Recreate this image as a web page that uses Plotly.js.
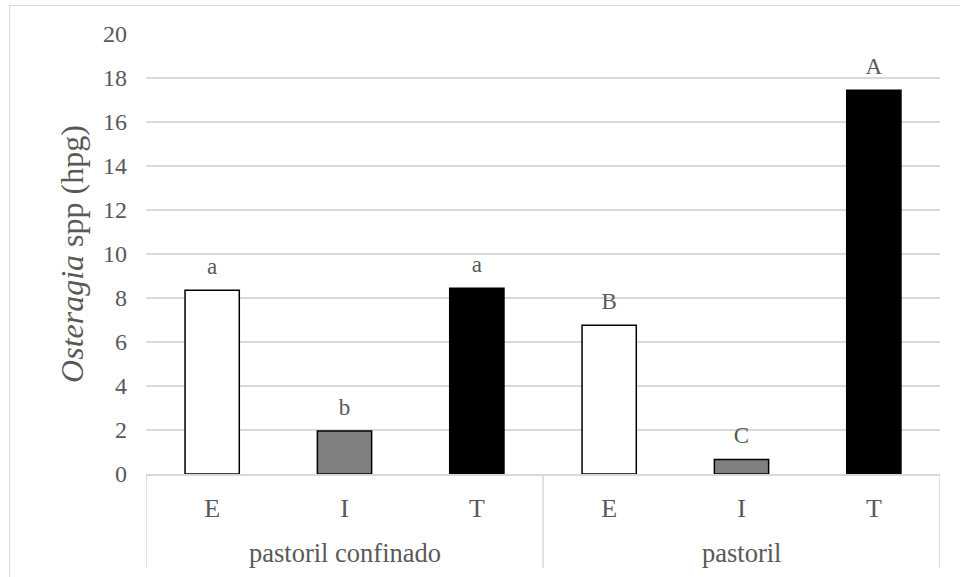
<!DOCTYPE html>
<html>
<head>
<meta charset="utf-8">
<script src="https://cdn.plot.ly/plotly-3.0.1.min.js"></script>
<style>
  html, body { margin: 0; padding: 0; background: #ffffff; }
  #frame { position: absolute; left: 9px; top: 5px; width: 1000px; height: 620px;
           border-left: 1.5px solid #d9d9d9; border-top: 1.5px solid #d9d9d9; }
  #chart { position: absolute; left: 0; top: 0; width: 960px; height: 577px; }
</style>
</head>
<body>
<div id="frame"></div>
<div id="chart"></div>
<script>
// Data
var groups = ["pastoril confinado", "pastoril confinado", "pastoril confinado", "pastoril", "pastoril", "pastoril"];
var treatments = ["E", "I", "T", "E", "I", "T"];
var values = [8.35, 1.95, 8.44, 6.76, 0.66, 17.44];
var letters = ["a", "b", "a", "B", "C", "A"];
var yTickVals = [0, 2, 4, 6, 8, 10, 12, 14, 16, 18, 20];

var fillColors = { E: "#ffffff", I: "#808080", T: "#000000" };
var barColors = treatments.map(function (t) { return fillColors[t]; });
var positions = treatments.map(function (t, i) { return i; });

var fontFamily = "Liberation Serif, Times New Roman, serif";
var textColor = "#595959";
var gridColor = "#d9d9d9";

// group label positions and group boundaries, derived from the groups array
var groupNames = [];
var groupCenters = [];
var boundaries = [-0.5];
groups.forEach(function (g, i) {
  if (i === 0 || g !== groups[i - 1]) {
    if (i > 0) boundaries.push(i - 0.5);
    groupNames.push(g);
    groupCenters.push([]);
  }
  groupCenters[groupCenters.length - 1].push(i);
});
boundaries.push(groups.length - 0.5);
groupCenters = groupCenters.map(function (arr) {
  return arr.reduce(function (a, b) { return a + b; }, 0) / arr.length;
});

var bars = {
  type: "bar",
  x: positions,
  y: values,
  width: 0.41,
  marker: { color: barColors, line: { color: "#000000", width: 1.5 } },
  hoverinfo: "skip",
  showlegend: false
};

var labels = {
  type: "scatter",
  mode: "markers+text",
  x: positions,
  y: values,
  text: letters,
  textposition: "top center",
  textfont: { family: fontFamily, size: 23, color: textColor },
  marker: { size: 14.8, color: "rgba(0,0,0,0)" },
  hoverinfo: "skip",
  showlegend: false,
  cliponaxis: false
};

var annotations = groupNames.map(function (g, k) {
  return {
    xref: "x", yref: "paper",
    x: groupCenters[k], y: 0,
    yanchor: "middle", xanchor: "center",
    yshift: -79,
    text: g, showarrow: false,
    font: { family: fontFamily, size: 26.5, color: textColor }
  };
});

var shapes = boundaries.map(function (b) {
  return {
    type: "line", xref: "x", yref: "paper",
    x0: b, x1: b, y0: 0, y1: -0.2136,
    line: { color: gridColor, width: 1.5 }
  };
});

var layout = {
  width: 960,
  height: 577,
  margin: { l: 146, r: 20, t: 34, b: 103 },
  paper_bgcolor: "rgba(0,0,0,0)",
  plot_bgcolor: "rgba(0,0,0,0)",
  font: { family: fontFamily, color: textColor },
  showlegend: false,
  xaxis: {
    range: [-0.5, groups.length - 0.5],
    tickmode: "array",
    tickvals: positions,
    ticktext: treatments,
    showline: true,
    linecolor: gridColor,
    linewidth: 1.5,
    ticks: "",
    showgrid: false,
    zeroline: false,
    ticklabelstandoff: 10,
    tickfont: { family: fontFamily, size: 26, color: textColor },
    fixedrange: true
  },
  yaxis: {
    range: [0, 20],
    tickvals: yTickVals,
    ticktext: yTickVals.map(String),
    showline: false,
    zeroline: false,
    showgrid: true,
    gridcolor: gridColor,
    gridwidth: 1.2,
    ticks: "",
    ticklabelstandoff: 18,
    tickfont: { family: fontFamily, size: 24, color: textColor },
    title: {
      text: "<i>Osteragia</i> spp (hpg)",
      font: { family: fontFamily, size: 32, color: textColor },
      standoff: 9
    },
    fixedrange: true
  },
  annotations: annotations,
  shapes: shapes
};

Plotly.newPlot("chart", [bars, labels], layout, { displayModeBar: false, staticPlot: true });
</script>
</body>
</html>
